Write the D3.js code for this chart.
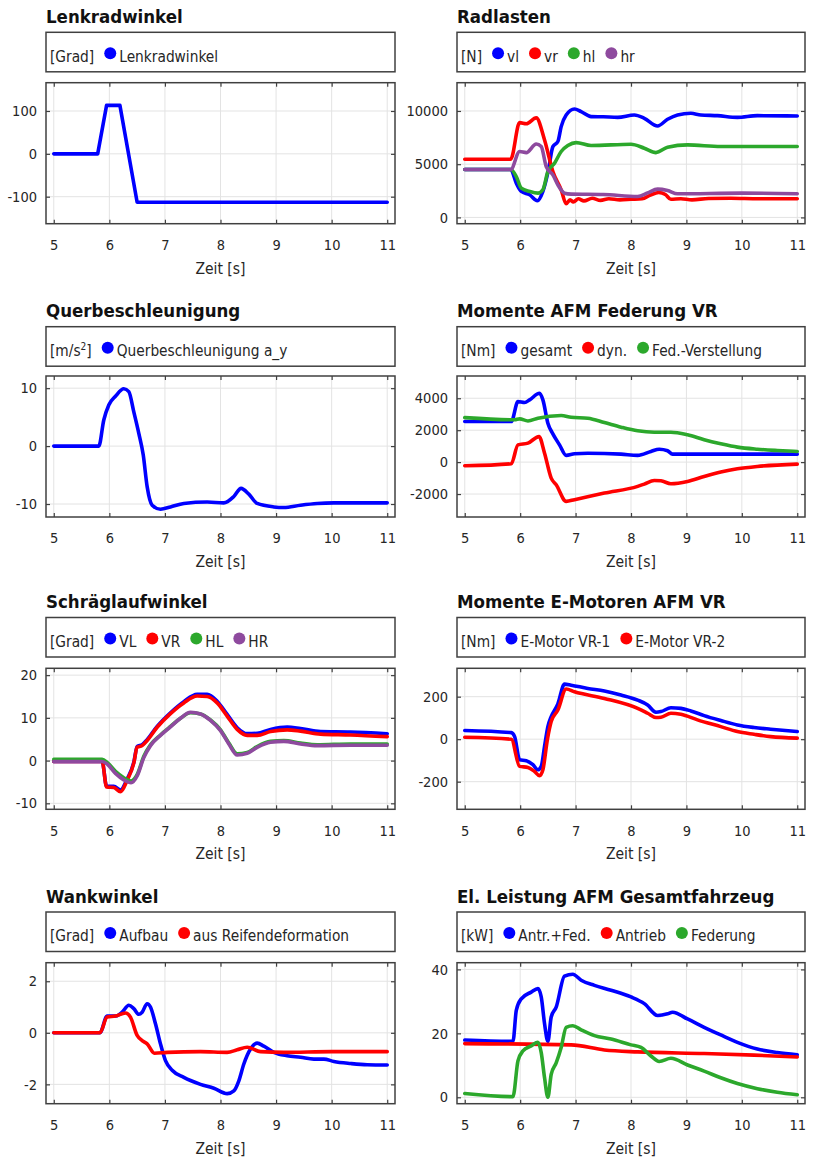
<!DOCTYPE html>
<html>
<head>
<meta charset="utf-8">
<script src="https://cdn.jsdelivr.net/npm/d3@7"></script>
<style>
  body { margin: 0; background: #fff; }
  svg { display: block; }
</style>
</head>
<body>
<div id="chart"></div>
<script>
// Zeitachse (gleich fuer alle Diagramme)
const timeTicks = [5, 6, 7, 8, 9, 10, 11];

// Lenkradwinkel [Grad]
const lenkradwinkel = [[5,0],[5.79,0],[5.95,113],[6.19,113],[6.5,-113],[11,-113]];

// Radlasten [N]
const radlastVL = [[5,4500],[5.83,4500],[5.93,3220],[6.02,2440],[6.17,2125],[6.31,1560],[6.41,2440],[6.51,4470],
  [6.59,6650],[6.68,7125],[6.74,8530],[6.83,9625],[6.98,10190],[7.1,9940],[7.28,9470],[7.5,9450],[7.76,9400],[8.06,9625],
  [8.24,9310],[8.48,8590],[8.66,9220],[8.84,9625],[9.08,9780],[9.26,9625],[9.56,9560],[9.92,9400],[10.28,9560],[11,9530]];
const radlastVR = [[5,5470],[5.83,5470],[5.99,8900],[6.11,8800],[6.29,9350],[6.44,7280],[6.59,4310],[6.74,2590],[6.83,1280],
  [6.9,1650],[6.96,1450],[7.05,1750],[7.15,1550],[7.3,1800],[7.45,1600],[7.6,1750],[7.8,1650],[8.0,1700],[8.2,1750],[8.35,2100],
  [8.5,2340],[8.62,2150],[8.72,1700],[8.9,1750],[9.1,1650],[9.4,1780],[9.8,1800],[10.3,1750],[11,1750]];
const radlastHL = [[5,4500],[5.83,4500],[5.93,3840],[6.02,2750],[6.17,2440],[6.32,2280],[6.41,2600],[6.5,4310],[6.62,5090],
  [6.74,6190],[6.86,6750],[7.01,7030],[7.28,6750],[8.0,6875],[8.24,6500],[8.45,6090],[8.66,6590],[9.02,6810],[9.62,6660],[11,6660]];
const radlastHR = [[5,4500],[5.83,4500],[5.99,6190],[6.11,6090],[6.29,6900],[6.38,6660],[6.47,4780],[6.59,4000],[6.68,3060],
  [6.8,2280],[6.92,2190],[7.5,2150],[8.12,1970],[8.3,2300],[8.48,2660],[8.66,2530],[8.84,2220],[10.0,2280],[11,2220]];

// Querbeschleunigung [m/s^2]
const querbeschleunigung = [[5,0],[5.81,0],[5.9,4.5],[5.99,7.1],[6.11,8.6],[6.26,9.9],[6.35,9.4],[6.44,5.9],[6.53,2.2],
  [6.61,-1.55],[6.68,-7.0],[6.77,-10.2],[6.92,-10.9],[7.1,-10.5],[7.34,-9.9],[7.76,-9.65],[8.06,-9.8],[8.24,-8.7],[8.37,-7.3],
  [8.51,-8.3],[8.66,-9.9],[8.96,-10.5],[9.14,-10.6],[9.44,-10.2],[9.74,-9.9],[10.04,-9.8],[11,-9.8]];

// Momente AFM Federung VR [Nm]
const momentGesamt = [[5,2540],[5.84,2540],[5.96,3790],[6.08,3730],[6.17,3900],[6.35,4310],[6.41,3900],[6.5,2440],[6.59,1770],
  [6.71,1080],[6.83,420],[6.98,520],[7.22,560],[7.82,500],[8.12,420],[8.36,670],[8.51,810],[8.66,710],[8.75,500],[9.32,500],[11,500]];
const momentDyn = [[5,-230],[5.84,-100],[5.96,1080],[6.14,1190],[6.34,1600],[6.44,560],[6.56,-1000],[6.65,-1420],[6.83,-2460],
  [6.98,-2350],[7.52,-1940],[8.12,-1520],[8.24,-1375],[8.42,-1150],[8.54,-1170],[8.72,-1350],[9.02,-1210],[9.32,-900],[9.62,-625],
  [9.92,-420],[10.28,-270],[11,-125]];
const momentFedVerst = [[5,2790],[5.9,2650],[5.99,2710],[6.14,2580],[6.32,2750],[6.74,2920],[6.92,2810],[7.22,2750],[7.52,2480],
  [7.82,2190],[8.12,1960],[8.42,1875],[8.72,1875],[9.02,1710],[9.32,1400],[9.62,1150],[9.92,940],[10.28,810],[10.64,730],[11,670]];

// Schraeglaufwinkel [Grad]
const schraegVL = [[5,-0.2],[5.87,-0.2],[5.95,-6.0],[6.08,-6.0],[6.2,-6.9],[6.32,-4.3],[6.44,-0.4],[6.5,3.3],[6.59,3.7],
  [6.68,4.9],[6.86,8.0],[7.1,11.2],[7.34,13.8],[7.58,15.5],[7.76,15.5],[7.94,13.9],[8.12,10.8],[8.3,7.7],[8.48,6.3],[8.66,6.4],
  [8.9,7.3],[9.2,7.85],[9.44,7.5],[9.8,6.8],[10.34,6.7],[11,6.3]];
const schraegVR = [[5,-0.2],[5.87,-0.2],[5.95,-6.2],[6.08,-6.3],[6.2,-7.3],[6.32,-4.6],[6.44,-0.6],[6.5,3.1],[6.59,3.5],
  [6.68,4.7],[6.86,7.8],[7.1,11.0],[7.34,13.5],[7.58,15.1],[7.76,15.0],[7.94,13.5],[8.12,10.4],[8.3,7.3],[8.48,5.9],[8.66,5.9],
  [8.9,6.8],[9.2,7.2],[9.44,6.9],[9.8,6.2],[10.34,6.0],[11,5.6]];
const schraegHL = [[5,0.3],[5.87,0.3],[5.96,-0.4],[6.11,-2.5],[6.26,-4.0],[6.39,-4.8],[6.5,-3.3],[6.62,1.0],[6.74,3.7],
  [6.92,6.0],[7.1,8.0],[7.28,9.9],[7.46,11.2],[7.64,10.9],[7.82,9.5],[8.0,7.2],[8.15,4.1],[8.3,1.6],[8.48,1.9],[8.66,3.3],
  [8.9,4.5],[9.14,4.7],[9.44,4.1],[9.74,3.7],[10.34,3.9],[11,3.9]];
const schraegHR = [[5,-0.2],[5.87,-0.2],[5.96,-0.8],[6.11,-3.0],[6.26,-4.5],[6.39,-5.2],[6.5,-3.6],[6.62,0.7],[6.74,3.5],
  [6.92,5.9],[7.1,7.9],[7.28,9.9],[7.46,11.3],[7.64,10.9],[7.82,9.4],[8.0,7.0],[8.15,3.9],[8.3,1.3],[8.48,1.7],[8.66,3.1],
  [8.9,4.3],[9.14,4.5],[9.44,3.9],[9.74,3.5],[10.34,3.6],[11,3.6]];

// Momente E-Motoren AFM VR [Nm]
const eMotor1 = [[5,41],[5.84,31],[5.9,12],[5.99,-97],[6.11,-101],[6.23,-120],[6.32,-144],[6.38,-128],[6.44,-34],[6.5,59],
  [6.56,106],[6.68,166],[6.8,259],[6.92,254],[7.22,239],[7.52,227],[7.82,208],[8.12,184],[8.3,161],[8.45,127],[8.54,130],
  [8.72,148],[8.9,145],[9.08,133],[9.32,111],[9.62,88],[9.92,67],[10.22,55],[10.52,47],[11,36]];
const eMotor2 = [[5,9],[5.84,0],[5.99,-128],[6.14,-133],[6.26,-152],[6.35,-172],[6.41,-144],[6.49,-3],[6.56,83],[6.68,137],
  [6.83,236],[6.98,223],[7.52,192],[8.12,145],[8.3,122],[8.45,102],[8.54,103],[8.72,122],[8.9,117],[9.2,91],[9.62,59],
  [9.92,36],[10.22,23],[10.52,12],[11,5]];

// Wankwinkel [Grad]
const wankAufbau = [[5,0],[5.83,0],[5.96,0.65],[6.11,0.65],[6.23,0.8],[6.35,1.07],[6.44,0.94],[6.53,0.72],[6.59,0.8],[6.68,1.13],
  [6.74,1.0],[6.83,0.35],[6.92,-0.43],[7.01,-1.08],[7.13,-1.45],[7.34,-1.73],[7.64,-2.0],[7.88,-2.15],[8.12,-2.36],[8.24,-2.25],
  [8.33,-1.86],[8.42,-1.21],[8.54,-0.63],[8.66,-0.4],[8.78,-0.52],[8.96,-0.76],[9.2,-0.89],[9.44,-0.95],[9.68,-1.02],[9.86,-1.02],
  [10.04,-1.11],[10.34,-1.19],[10.64,-1.24],[11,-1.25]];
const wankReifen = [[5,0],[5.83,0],[5.96,0.61],[6.11,0.65],[6.29,0.77],[6.38,0.61],[6.5,-0.1],[6.59,-0.3],[6.68,-0.43],
  [6.81,-0.79],[7.04,-0.76],[7.64,-0.73],[8.12,-0.76],[8.3,-0.66],[8.48,-0.56],[8.72,-0.73],[9.14,-0.76],[10.0,-0.73],[11,-0.73]];

// El. Leistung AFM Gesamtfahrzeug [kW]
const leistungGesamt = [[5,17.9],[5.87,17.5],[5.93,27.2],[6.02,30.8],[6.2,32.9],[6.32,34.0],[6.38,31.4],[6.44,23.0],[6.5,17.5],
  [6.56,25.1],[6.65,28.2],[6.8,37.9],[6.95,38.5],[7.1,36.6],[7.34,35.0],[7.64,33.5],[8.0,31.4],[8.24,29.3],[8.48,25.6],
  [8.66,26.1],[8.75,26.6],[9.02,24.5],[9.32,21.9],[9.62,19.5],[9.92,17.2],[10.28,15.1],[10.64,14.0],[11,13.3]];
const leistungAntrieb = [[5,16.8],[6.92,16.4],[7.52,14.8],[8.12,14.2],[9.32,13.7],[10.22,13.2],[11,12.6]];
const leistungFederung = [[5,1.2],[5.87,0.2],[5.96,11.4],[6.05,14.5],[6.2,16.1],[6.32,17.2],[6.38,14.0],[6.44,6.1],[6.5,0],
  [6.56,7.2],[6.65,10.8],[6.74,15.6],[6.83,21.9],[6.95,22.4],[7.1,21.1],[7.34,19.3],[7.64,18.2],[8.0,16.4],[8.18,15.6],
  [8.36,12.9],[8.51,11.2],[8.72,12.2],[9.02,10.1],[9.32,8.2],[9.62,6.1],[9.92,4.3],[10.28,2.7],[10.64,1.6],[11,0.8]];

const blue = "#0000ff", red = "#ff0000", green = "#2ca82c", purple = "#8e4a9e";

const panels = [
  { title: "Lenkradwinkel", unit: ["[Grad]"], col: 0, row: 0, yDomain: [-163, 166], yTicks: [-100, 0, 100], curve: d3.curveLinear,
    series: [{ name: "Lenkradwinkel", color: blue, data: lenkradwinkel }] },
  { title: "Radlasten", unit: ["[N]"], col: 1, row: 0, yDomain: [-590, 12655], yTicks: [0, 5000, 10000],
    series: [{ name: "vl", color: blue, data: radlastVL }, { name: "vr", color: red, data: radlastVR },
             { name: "hl", color: green, data: radlastHL }, { name: "hr", color: purple, data: radlastHR }] },
  { title: "Querbeschleunigung", unit: ["[m/s", "2", "]"], col: 0, row: 1, yDomain: [-12.24, 12.1], yTicks: [-10, 0, 10],
    series: [{ name: "Querbeschleunigung a_y", color: blue, data: querbeschleunigung }] },
  { title: "Momente AFM Federung VR", unit: ["[Nm]"], col: 1, row: 1, yDomain: [-3437, 5394], yTicks: [-2000, 0, 2000, 4000],
    series: [{ name: "gesamt", color: blue, data: momentGesamt }, { name: "dyn.", color: red, data: momentDyn },
             { name: "Fed.-Verstellung", color: green, data: momentFedVerst }] },
  { title: "Schräglaufwinkel", unit: ["[Grad]"], col: 0, row: 2, yDomain: [-11.4, 21.6], yTicks: [-10, 0, 10, 20],
    series: [{ name: "VL", color: blue, data: schraegVL }, { name: "VR", color: red, data: schraegVR },
             { name: "HL", color: green, data: schraegHL }, { name: "HR", color: purple, data: schraegHR }] },
  { title: "Momente E-Motoren AFM VR", unit: ["[Nm]"], col: 1, row: 2, yDomain: [-330, 333.6], yTicks: [-200, 0, 200],
    series: [{ name: "E-Motor VR-1", color: blue, data: eMotor1 }, { name: "E-Motor VR-2", color: red, data: eMotor2 }] },
  { title: "Wankwinkel", unit: ["[Grad]"], col: 0, row: 3, yDomain: [-2.75, 2.72], yTicks: [-2, 0, 2],
    series: [{ name: "Aufbau", color: blue, data: wankAufbau }, { name: "aus Reifendeformation", color: red, data: wankReifen }] },
  { title: "El. Leistung AFM Gesamtfahrzeug", unit: ["[kW]"], col: 1, row: 3, yDomain: [-2.0, 42.1], yTicks: [0, 20, 40],
    series: [{ name: "Antr.+Fed.", color: blue, data: leistungGesamt }, { name: "Antrieb", color: red, data: leistungAntrieb },
             { name: "Federung", color: green, data: leistungFederung }] }
];

// Layout
const width = 814, height = 1160;
const font = "'DejaVu Sans Condensed', 'DejaVu Sans', sans-serif";
const textColor = "#262626";
const cols = [{ left: 46, right: 395 }, { left: 457, right: 805 }];
const legendTops = [32.3, 326.7, 617.5, 912];
const legendH = 39.5;
const plotTops = [82.7, 376, 668.3, 962.7];
const plotH = 141;

const svg = d3.select("#chart").append("svg")
  .attr("width", width)
  .attr("height", height)
  .style("font-family", font)
  .style("font-stretch", "condensed");

const fmt = d => String(d).replace("\u2212", "-");

panels.forEach(p => {
  const c = cols[p.col];
  const top = plotTops[p.row];
  const bottom = top + plotH;
  const lTop = legendTops[p.row];
  const g = svg.append("g");

  // Titel
  g.append("text")
    .attr("x", c.left)
    .attr("y", lTop - 9.5)
    .attr("fill", "#111")
    .style("font-size", "18.5px")
    .style("font-weight", "bold")
    .text(p.title);

  // Legende
  g.append("rect")
    .attr("x", c.left).attr("y", lTop)
    .attr("width", c.right - c.left).attr("height", legendH)
    .attr("fill", "#fff").attr("stroke", "#404040").attr("stroke-width", 1.5);

  const unit = g.append("text")
    .attr("x", c.left + 4)
    .attr("y", lTop + 29.4)
    .attr("fill", textColor)
    .style("font-size", "15.3px");
  unit.append("tspan").text(p.unit[0]);
  if (p.unit.length > 1) {
    unit.append("tspan").attr("dy", -6).style("font-size", "10px").text(p.unit[1]);
    unit.append("tspan").attr("dy", 6).text(p.unit[2]);
  }
  let cursor = c.left + 4 + unit.node().getComputedTextLength();
  p.series.forEach(s => {
    const cx = cursor + 16;
    g.append("circle")
      .attr("cx", cx).attr("cy", lTop + 21)
      .attr("r", 6).attr("fill", s.color);
    const t = g.append("text")
      .attr("x", cx + 9)
      .attr("y", lTop + 29.4)
      .attr("fill", textColor)
      .style("font-size", "15.3px")
      .text(s.name);
    cursor = cx + 9 + t.node().getComputedTextLength();
  });

  // Skalen
  const x = d3.scaleLinear().domain([4.86, 11.14]).range([c.left, c.right]);
  const y = d3.scaleLinear().domain(p.yDomain).range([bottom, top]);

  // Gitter
  g.append("g").selectAll("line").data(timeTicks).join("line")
    .attr("x1", d => x(d)).attr("x2", d => x(d))
    .attr("y1", top).attr("y2", bottom)
    .attr("stroke", "#e3e3e3").attr("stroke-width", 1);
  g.append("g").selectAll("line").data(p.yTicks).join("line")
    .attr("x1", c.left).attr("x2", c.right)
    .attr("y1", d => y(d)).attr("y2", d => y(d))
    .attr("stroke", "#e3e3e3").attr("stroke-width", 1);

  // Kurven
  const line = d3.line().x(d => x(d[0])).y(d => y(d[1])).curve(p.curve || d3.curveMonotoneX);
  const clipId = "clip" + p.col + p.row;
  g.append("clipPath").attr("id", clipId)
    .append("rect").attr("x", c.left).attr("y", top)
    .attr("width", c.right - c.left).attr("height", plotH);
  const lines = g.append("g").attr("clip-path", `url(#${clipId})`);
  p.series.forEach(s => {
    lines.append("path")
      .datum(s.data)
      .attr("d", line)
      .attr("fill", "none")
      .attr("stroke", s.color)
      .attr("stroke-width", 3.6)
      .attr("stroke-linejoin", "round")
      .attr("stroke-linecap", "round");
  });

  // Achsen (Ticks nach innen, Box rundherum)
  const axB = g.append("g").attr("transform", `translate(0,${bottom})`)
    .call(d3.axisBottom(x).tickValues(timeTicks).tickSize(-4).tickPadding(16).tickFormat(fmt));
  const axL = g.append("g").attr("transform", `translate(${c.left},0)`)
    .call(d3.axisLeft(y).tickValues(p.yTicks).tickSize(-4).tickPadding(9).tickFormat(fmt));
  g.append("g").attr("transform", `translate(0,${top})`)
    .call(d3.axisTop(x).tickValues(timeTicks).tickSize(-4).tickFormat(""));
  g.append("g").attr("transform", `translate(${c.right},0)`)
    .call(d3.axisRight(y).tickValues(p.yTicks).tickSize(-4).tickFormat(""));
  g.selectAll(".domain").remove();
  g.selectAll(".tick line").attr("stroke", "#404040").attr("stroke-width", 1.2);
  [axB, axL].forEach(a => a.selectAll("text")
    .attr("fill", textColor)
    .style("font-size", "14.5px")
    .style("font-family", font));

  g.append("rect")
    .attr("x", c.left).attr("y", top)
    .attr("width", c.right - c.left).attr("height", plotH)
    .attr("fill", "none").attr("stroke", "#404040").attr("stroke-width", 1.5);

  g.append("text")
    .attr("x", (x(5) + x(11)) / 2)
    .attr("y", bottom + 50)
    .attr("text-anchor", "middle")
    .attr("fill", textColor)
    .style("font-size", "15.5px")
    .text("Zeit [s]");
});
</script>
</body>
</html>
